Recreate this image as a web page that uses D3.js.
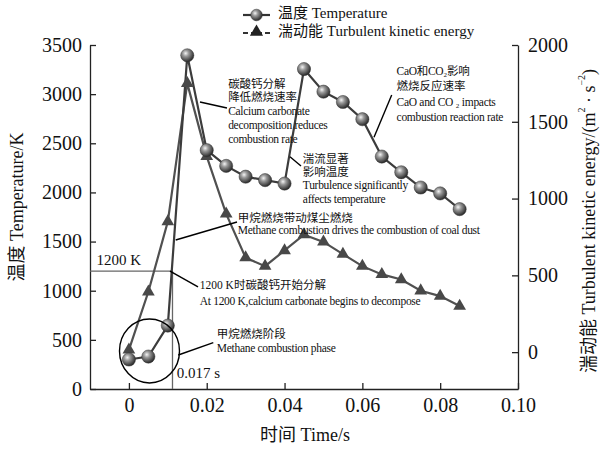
<!DOCTYPE html>
<html><head><meta charset="utf-8">
<script src="https://cdn.jsdelivr.net/npm/d3@7/dist/d3.min.js"></script>
<style>
html,body{margin:0;padding:0;background:#fff;}
svg{display:block;}
svg text{font-family:"Liberation Serif","Times New Roman","DejaVu Serif","Noto Sans CJK SC",serif !important;fill:#111;}
</style></head>
<body>
<svg id="chart" width="611" height="449"></svg>
<script>
// ---- data ----
const time = [0,0.005,0.01,0.015,0.02,0.025,0.03,0.035,0.04,0.045,0.05,0.055,0.06,0.065,0.07,0.075,0.08,0.085];
const temperature = [300,330,645,3395,2430,2270,2160,2125,2090,3255,3025,2920,2745,2365,2205,2050,1990,1830];
const tke = [15,393,850,1750,1275,900,615,560,662,765,718,638,560,506,473,400,365,300];
const xTicks = [0,0.02,0.04,0.06,0.08,0.10];
const xTickLabels = ["0","0.02","0.04","0.06","0.08","0.10"];
const yLeftTicks = [0,500,1000,1500,2000,2500,3000,3500];
const yRightTicks = [0,500,1000,1500,2000];
const crossTime = 0.0112;     // time where 1200 K is reached
const crossTemp = 1200;

const svg = d3.select("#chart");
const m = {left:90, right:518, top:45, bottom:389};

const x = d3.scaleLinear([-0.01, 0.10], [m.left, m.right]);
const yL = d3.scaleLinear([0, 3500], [m.bottom, m.top]);
const yR = d3.scaleLinear([-240, 2000], [m.bottom, m.top]);

// gradient for spheres
const defs = svg.append("defs");
const grad = defs.append("radialGradient").attr("id","sph").attr("cx","38%").attr("cy","35%").attr("r","65%");
grad.append("stop").attr("offset","0%").attr("stop-color","#f4f4f4");
grad.append("stop").attr("offset","35%").attr("stop-color","#9a9a9a");
grad.append("stop").attr("offset","100%").attr("stop-color","#2a2a2a");

// axes
const fs = 20;
const axB = svg.append("g").attr("transform",`translate(0,${m.bottom})`)
  .call(d3.axisBottom(x).tickValues(xTicks).tickFormat((d,i)=>xTickLabels[i]).tickSizeInner(-6).tickSizeOuter(0).tickPadding(12));
const axL = svg.append("g").attr("transform",`translate(${m.left},0)`)
  .call(d3.axisLeft(yL).tickValues(yLeftTicks).tickFormat(d3.format("d")).tickSizeInner(-6).tickSizeOuter(0).tickPadding(8));
const axR = svg.append("g").attr("transform",`translate(${m.right},0)`)
  .call(d3.axisRight(yR).tickValues(yRightTicks).tickFormat(d3.format("d")).tickSizeInner(-6).tickSizeOuter(0).tickPadding(10));
[axB,axL,axR].forEach(a=>{
  a.attr("font-family",null);
  a.selectAll("text").attr("font-size",fs).attr("fill","#111");
  a.selectAll("path,line").attr("stroke","#222").attr("stroke-width",1.3);
});
axB.selectAll(".tick text").attr("dy","0.55em");

// axis titles
svg.append("text").attr("x",305).attr("y",437).attr("text-anchor","middle")
  .attr("dominant-baseline","middle").attr("font-size",18).text("时间 Time/s");
svg.append("text").attr("transform","translate(19,207) rotate(-90)").attr("text-anchor","middle")
  .attr("dominant-baseline","middle").attr("font-size",18).text("温度 Temperature/K");
const rt = svg.append("text").attr("transform","translate(591,221) rotate(-90)").attr("text-anchor","middle")
  .attr("dominant-baseline","middle").attr("font-size",18);
rt.append("tspan").text("湍动能 Turbulent kinetic energy/(m");
rt.append("tspan").attr("font-size",10).attr("dy",-8).text("2");
rt.append("tspan").attr("dy",8).text(" · s");
rt.append("tspan").attr("font-size",10).attr("dy",-8).text("−2");
rt.append("tspan").attr("dy",8).text(")");

// reference lines (1200 K)
svg.append("line").attr("x1",m.left).attr("x2",x(crossTime)).attr("y1",yL(crossTemp)).attr("y2",yL(crossTemp))
  .attr("stroke","#666").attr("stroke-width",1.3);
svg.append("line").attr("x1",x(crossTime)).attr("x2",x(crossTime)).attr("y1",m.bottom).attr("y2",yL(crossTemp))
  .attr("stroke","#666").attr("stroke-width",1.3);
svg.append("text").attr("x",x(-0.0083)).attr("y",yL(1294)).attr("dominant-baseline","middle").attr("font-size",15).text("1200 K");
svg.append("text").attr("x",x(0.0123)).attr("y",yL(142)).attr("dominant-baseline","middle").attr("font-size",15).text("0.017 s");

// lines
const dT = time.map((t,i)=>({t, v:temperature[i]}));
const dK = time.map((t,i)=>({t, v:tke[i]}));
svg.append("path").datum(dK).attr("fill","none").attr("stroke","#505050").attr("stroke-width",2.2)
  .attr("d", d3.line().x(d=>x(d.t)).y(d=>yR(d.v)));
svg.append("path").datum(dT).attr("fill","none").attr("stroke","#3c3c3c").attr("stroke-width",2.2)
  .attr("d", d3.line().x(d=>x(d.t)).y(d=>yL(d.v)));

const tri = d3.symbol().type(d3.symbolTriangle).size(70);
svg.append("g").selectAll("path").data(dK).join("path")
  .attr("transform",d=>`translate(${x(d.t)},${yR(d.v)})`).attr("d",tri).attr("fill","#484848");
svg.append("g").selectAll("circle").data(dT).join("circle")
  .attr("cx",d=>x(d.t)).attr("cy",d=>yL(d.v)).attr("r",6.6).attr("fill","url(#sph)").attr("stroke","#333").attr("stroke-width",0.5);

// annotations (anchor positions in data units: time, temperature)
const annotations = [
  {t:0.0255, v:3093, gap:13.8, lines:["碳酸钙分解","降低燃烧速率","Calcium carbonate","decomposition reduces","combustion rate"], p:[[0.01827,2920],[0.02521,2859]]},
  {t:0.0447, v:2330, gap:13.4, lines:["湍流显著","影响温度","Turbulence significantly","affects temperature"], p:[[0.0414,2363],[0.04423,2269]]},
  {t:0.0280, v:1730, gap:12.2, lines:["甲烷燃烧带动煤尘燃烧","Methane combustion drives the combustion of coal dust"], p:[[0.01203,1516],[0.02778,1699]]},
  {t:0.0182, v:1041, gap:15.3, lines:["1200 K时碳酸钙开始分解","At 1200 K,calcium carbonate begins to decompose"], p:[[0.01056,1200],[0.01776,1038]]},
  {t:0.0226, v:542, gap:13.4, lines:["甲烷燃烧阶段","Methane combustion phase"], p:[[0.01269,346],[0.02169,471]]},
  {t:0.0688, v:3222, gap:15.3, lines:["CaO和CO₂影响","燃烧反应速率","CaO and CO ₂ impacts","combustion reaction rate"], p:[[0.06754,2991],[0.06299,2561]]}
];
const ag = svg.append("g");
annotations.forEach(a=>{
  ag.append("line").attr("x1",x(a.p[0][0])).attr("y1",yL(a.p[0][1])).attr("x2",x(a.p[1][0])).attr("y2",yL(a.p[1][1]))
    .attr("stroke","#000").attr("stroke-width",1.4);
  a.lines.forEach((s,i)=>{
    const cjk = /[\u4e00-\u9fff]/.test(s) && !/^[A-Za-z]/.test(s);
    ag.append("text").attr("x",x(a.t)).attr("y",yL(a.v)+i*a.gap).attr("dominant-baseline","middle")
      .attr("font-size", 11.5).attr("letter-spacing", cjk?0:-0.3).text(s);
  });
});
// circle around methane phase
ag.append("ellipse").attr("cx",x(0.00529)).attr("cy",yL(387)).attr("rx",30).attr("ry",32)
  .attr("fill","none").attr("stroke","#000").attr("stroke-width",1.4);

// legend
const lg = svg.append("g");
lg.append("line").attr("x1",243).attr("x2",270).attr("y1",15).attr("y2",15).attr("stroke","#333").attr("stroke-width",2.2);
lg.append("circle").attr("cx",256.5).attr("cy",15).attr("r",5.8).attr("fill","url(#sph)").attr("stroke","#333").attr("stroke-width",0.5);
lg.append("line").attr("x1",243).attr("x2",270).attr("y1",33).attr("y2",33).attr("stroke","#333").attr("stroke-width",2.2).attr("stroke-dasharray","5,3,11,3,5");
lg.append("path").attr("transform","translate(256.5,32)").attr("d",d3.symbol().type(d3.symbolTriangle).size(75)).attr("fill","#222");
lg.append("text").attr("x",278).attr("y",15).attr("dominant-baseline","middle").attr("font-size",15).text("温度 Temperature");
lg.append("text").attr("x",278).attr("y",33).attr("dominant-baseline","middle").attr("font-size",15).text("湍动能 Turbulent kinetic energy");
</script>
</body></html>
